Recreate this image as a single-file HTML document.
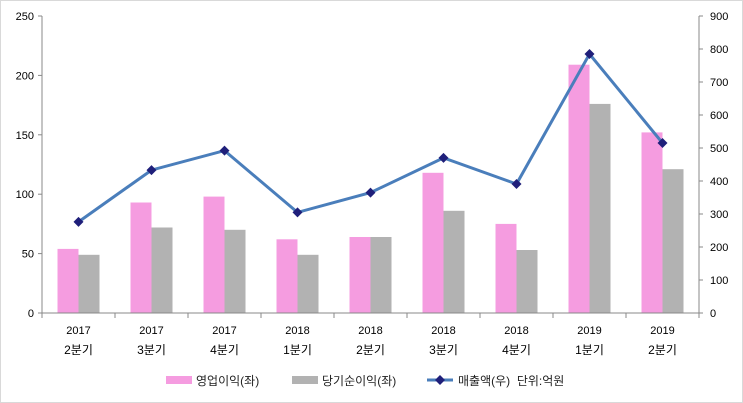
<!DOCTYPE html>
<html><head><style>body{margin:0;background:#fff}svg{display:block;font-family:"Liberation Sans","Noto Sans CJK KR",sans-serif}</style></head><body>
<svg width="743" height="403" viewBox="0 0 743 403" xmlns="http://www.w3.org/2000/svg">
<rect x="0.5" y="0.5" width="742" height="402" fill="#fff" stroke="#d9d9d9"/>
<g fill="#f59ce0">
<rect x="57.5" y="248.9" width="21" height="64.1"/>
<rect x="130.5" y="202.5" width="21" height="110.5"/>
<rect x="203.5" y="196.6" width="21" height="116.4"/>
<rect x="276.5" y="239.3" width="21" height="73.7"/>
<rect x="349.5" y="237" width="21" height="76"/>
<rect x="422.5" y="172.8" width="21" height="140.2"/>
<rect x="495.5" y="223.9" width="21" height="89.1"/>
<rect x="568.5" y="64.7" width="21" height="248.3"/>
<rect x="641.5" y="132.4" width="21" height="180.6"/>
</g>
<g fill="#b2b2b2">
<rect x="78.5" y="254.8" width="21" height="58.2"/>
<rect x="151.5" y="227.5" width="21" height="85.5"/>
<rect x="224.5" y="229.8" width="21" height="83.2"/>
<rect x="297.5" y="254.8" width="21" height="58.2"/>
<rect x="370.5" y="237" width="21" height="76"/>
<rect x="443.5" y="210.8" width="21" height="102.2"/>
<rect x="516.5" y="250" width="21" height="63"/>
<rect x="589.5" y="103.9" width="21" height="209.1"/>
<rect x="662.5" y="169.2" width="21" height="143.8"/>
</g>
<polyline points="78.5,221.9 151.5,170.1 224.5,150.6 297.5,212.4 370.5,192.6 443.5,157.9 516.5,184 589.5,54 662.5,143" fill="none" stroke="#4a7ebb" stroke-width="3"/>
<g fill="#1f1f7a">
<polygon points="78.5,216.9 83.5,221.9 78.5,226.9 73.5,221.9"/>
<polygon points="151.5,165.1 156.5,170.1 151.5,175.1 146.5,170.1"/>
<polygon points="224.5,145.6 229.5,150.6 224.5,155.6 219.5,150.6"/>
<polygon points="297.5,207.4 302.5,212.4 297.5,217.4 292.5,212.4"/>
<polygon points="370.5,187.6 375.5,192.6 370.5,197.6 365.5,192.6"/>
<polygon points="443.5,152.9 448.5,157.9 443.5,162.9 438.5,157.9"/>
<polygon points="516.5,179 521.5,184 516.5,189 511.5,184"/>
<polygon points="589.5,49 594.5,54 589.5,59 584.5,54"/>
<polygon points="662.5,138 667.5,143 662.5,148 657.5,143"/>
</g>
<g stroke="#888">
<line x1="42" y1="16" x2="42" y2="313"/><line x1="699" y1="16" x2="699" y2="313"/><line x1="42" y1="313" x2="699" y2="313"/>
<line x1="38" y1="313" x2="42" y2="313"/><line x1="38" y1="253.6" x2="42" y2="253.6"/><line x1="38" y1="194.2" x2="42" y2="194.2"/><line x1="38" y1="134.8" x2="42" y2="134.8"/><line x1="38" y1="75.4" x2="42" y2="75.4"/><line x1="38" y1="16" x2="42" y2="16"/>
<line x1="699" y1="313" x2="703" y2="313"/><line x1="699" y1="280" x2="703" y2="280"/><line x1="699" y1="247" x2="703" y2="247"/><line x1="699" y1="214" x2="703" y2="214"/><line x1="699" y1="181" x2="703" y2="181"/><line x1="699" y1="148" x2="703" y2="148"/><line x1="699" y1="115" x2="703" y2="115"/><line x1="699" y1="82" x2="703" y2="82"/><line x1="699" y1="49" x2="703" y2="49"/><line x1="699" y1="16" x2="703" y2="16"/>
<line x1="42" y1="313" x2="42" y2="318"/><line x1="115" y1="313" x2="115" y2="318"/><line x1="188" y1="313" x2="188" y2="318"/><line x1="261" y1="313" x2="261" y2="318"/><line x1="334" y1="313" x2="334" y2="318"/><line x1="407" y1="313" x2="407" y2="318"/><line x1="480" y1="313" x2="480" y2="318"/><line x1="553" y1="313" x2="553" y2="318"/><line x1="626" y1="313" x2="626" y2="318"/><line x1="699" y1="313" x2="699" y2="318"/>
</g>
<g font-size="11" text-anchor="end">
<text x="34" y="317">0</text><text x="34" y="257.6">50</text><text x="34" y="198.2">100</text><text x="34" y="138.8">150</text><text x="34" y="79.4">200</text><text x="34" y="20">250</text>
</g>
<g font-size="11">
<text x="710" y="317">0</text><text x="710" y="284">100</text><text x="710" y="251">200</text><text x="710" y="218">300</text><text x="710" y="185">400</text><text x="710" y="152">500</text><text x="710" y="119">600</text><text x="710" y="86">700</text><text x="710" y="53">800</text><text x="710" y="20">900</text>
</g>
<g font-size="11" text-anchor="middle">
<text x="78.5" y="334">2017</text><text x="151.5" y="334">2017</text><text x="224.5" y="334">2017</text><text x="297.5" y="334">2018</text><text x="370.5" y="334">2018</text><text x="443.5" y="334">2018</text><text x="516.5" y="334">2018</text><text x="589.5" y="334">2019</text><text x="662.5" y="334">2019</text>
</g>
<g font-size="12" text-anchor="middle">
<text x="78.5" y="354">2분기</text><text x="151.5" y="354">3분기</text><text x="224.5" y="354">4분기</text><text x="297.5" y="354">1분기</text><text x="370.5" y="354">2분기</text><text x="443.5" y="354">3분기</text><text x="516.5" y="354">4분기</text><text x="589.5" y="354">1분기</text><text x="662.5" y="354">2분기</text>
</g>
<rect x="166" y="376" width="26" height="8" fill="#f59ce0"/><text x="196" y="385" font-size="12" fill="#222">영업이익(좌)</text>
<rect x="292" y="376" width="26" height="8" fill="#b2b2b2"/><text x="322" y="385" font-size="12" fill="#222">당기순이익(좌)</text>
<line x1="427" y1="380" x2="453" y2="380" stroke="#4a7ebb" stroke-width="3"/><polygon points="440,375 445,380 440,385 435,380" fill="#1f1f7a"/><text x="458" y="385" font-size="12" fill="#222" xml:space="preserve">매출액(우)  단위:억원</text>
</svg>
</body></html>
